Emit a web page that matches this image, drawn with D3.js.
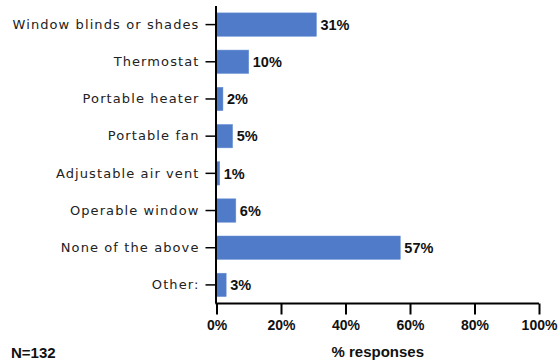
<!DOCTYPE html>
<html><head><meta charset="utf-8">
<script src="https://cdn.jsdelivr.net/npm/d3@7"></script>
<style>body{margin:0;background:#fff}</style>
</head><body>
<svg id="c" width="560" height="363"></svg>
<script>
const categories = ["Window blinds or shades","Thermostat","Portable heater","Portable fan","Adjustable air vent","Operable window","None of the above","Other:"];
const values = [31,10,2,5,1,6,57,3];
const tickValues = [0,20,40,60,80,100];
const xTitle = "% responses";
const note = "N=132";

const svg = d3.select("#c");
const x = d3.scaleLinear().domain([0,100]).range([216.5,539]);
const y = d3.scaleBand().domain(categories).range([6,303.5]).paddingInner(0.37).paddingOuter(0.185);

svg.selectAll("rect.bar").data(values).enter().append("rect")
  .attr("x", x(0)).attr("y",(d,i)=>y(categories[i]))
  .attr("width", d=>x(d)-x(0)).attr("height", y.bandwidth())
  .attr("fill","#4f7bc8").attr("stroke","#6d93d6").attr("stroke-width",0.5);

svg.selectAll("text.val").data(values).enter().append("text")
  .attr("x", d=>x(d)+4).attr("y",(d,i)=>y(categories[i])+y.bandwidth()/2)
  .attr("dy","0.36em").attr("font-family","Liberation Sans, Arial, sans-serif")
  .attr("font-weight","bold").attr("font-size",14.5).attr("fill","#111")
  .text(d=>d+"%");

const yAxis = svg.append("g").attr("transform",`translate(${x(0)},0)`)
  .call(d3.axisLeft(y).tickSize(11).tickPadding(6));
yAxis.select(".domain").attr("d",`M-0.5,6V303.5`).attr("stroke","#000").attr("stroke-width",2);
yAxis.selectAll(".tick line").attr("stroke","#000").attr("stroke-width",1.5);
yAxis.selectAll(".tick text").attr("font-family","DejaVu Sans, Verdana, sans-serif")
  .attr("font-size",13).attr("fill","#222").attr("letter-spacing","1.1px");

const xAxis = svg.append("g").attr("transform","translate(0,303.5)")
  .call(d3.axisBottom(x).tickValues(tickValues).tickFormat(d=>d+"%").tickSize(11).tickPadding(6));
xAxis.select(".domain").attr("d",`M${x(0)-1},0H${x(100)}`).attr("stroke","#000").attr("stroke-width",2);
xAxis.selectAll(".tick line").attr("stroke","#000").attr("stroke-width",2);
xAxis.selectAll(".tick text").attr("font-family","Liberation Sans, Arial, sans-serif")
  .attr("font-weight","bold").attr("font-size",14).attr("fill","#111");

svg.append("text").attr("x",(x(0)+x(100))/2).attr("y",357)
  .attr("text-anchor","middle").attr("font-family","Liberation Sans, Arial, sans-serif")
  .attr("font-weight","bold").attr("font-size",15).attr("fill","#111").text(xTitle);

svg.append("text").attr("x",11).attr("y",358)
  .attr("font-family","Liberation Sans, Arial, sans-serif")
  .attr("font-weight","bold").attr("font-size",15).attr("fill","#111").text(note);
</script>
</body></html>
